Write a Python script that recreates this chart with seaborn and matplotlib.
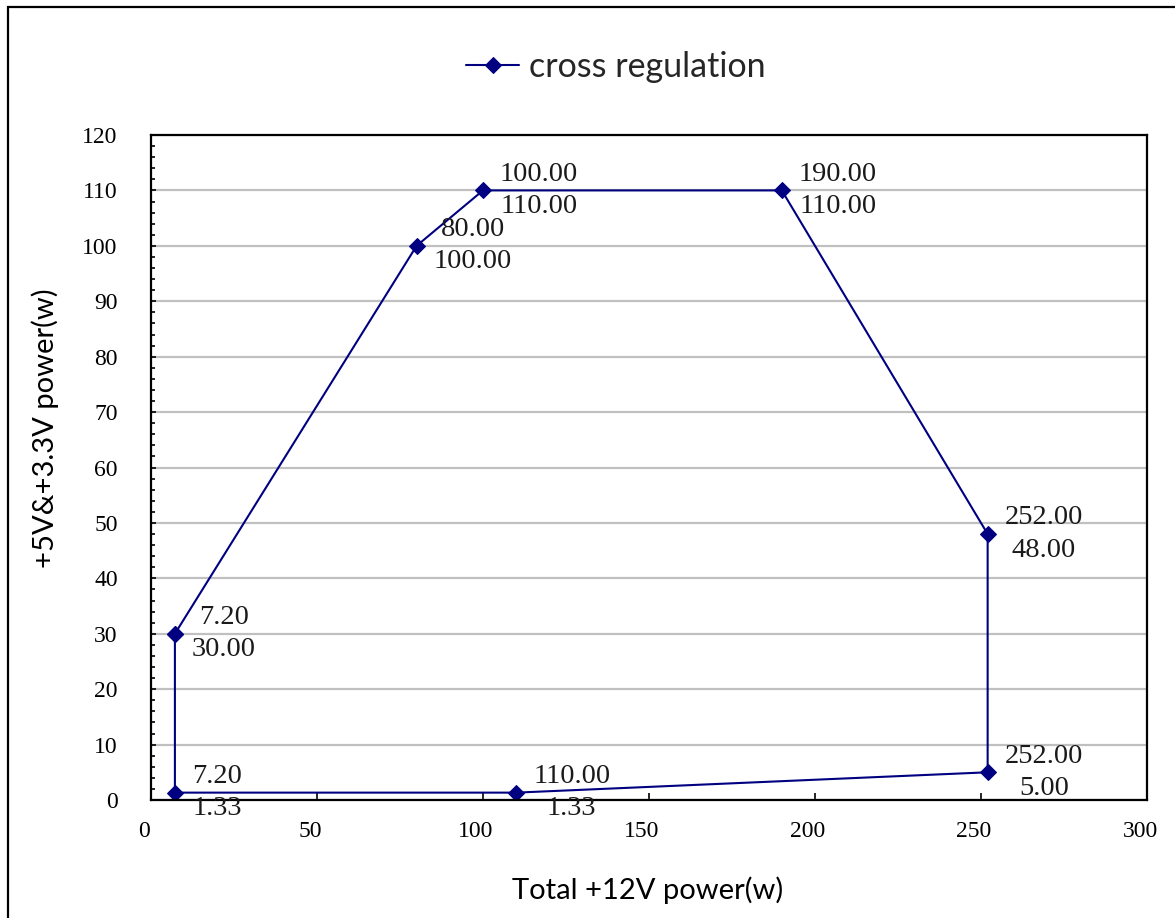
import matplotlib
matplotlib.use("Agg")
import matplotlib.pyplot as plt
import matplotlib.transforms as mtransforms
from matplotlib.patches import Rectangle
from matplotlib.ticker import MultipleLocator
import seaborn as sns
import pandas as pd

# ---- data ----
x_12v = [7.2, 80, 100, 190, 252, 252, 110, 7.2, 7.2]
y_5v33 = [30, 100, 110, 110, 48, 5, 1.33, 1.33, 30]
series_name = "cross regulation"
x_ticks = [0, 50, 100, 150, 200, 250, 300]
y_ticks = [0, 10, 20, 30, 40, 50, 60, 70, 80, 90, 100, 110, 120]
x_label = "Total +12V power(w)"
y_label = "+5V&+3.3V power(w)"

df = pd.DataFrame({"x": x_12v, "y": y_5v33, "s": [series_name] * len(x_12v)})

sns.set_theme(style="white")
plt.rcParams["font.family"] = ["Liberation Serif", "DejaVu Serif"]

W, H = 1175, 918
fig = plt.figure(figsize=(W / 100, H / 100), dpi=100)
ax = fig.add_axes([151 / W, 1 - 800 / H, (1147 - 151) / W, (800 - 135) / H])

navy = "#000080"
sns.lineplot(data=df, x="x", y="y", hue="s", palette=[navy], sort=False,
             estimator=None, marker="D", markersize=8, markeredgecolor=navy,
             linewidth=1.5, ax=ax, legend=True)

ax.set_xlim(0, 300)
ax.set_ylim(0, 120)
ax.set_xticks(x_ticks)
ax.set_yticks(y_ticks)
ax.yaxis.set_minor_locator(MultipleLocator(2))
ax.grid(axis="y", which="major", color="#C0C0C0", linewidth=1.6)
ax.grid(axis="x", visible=False)
ax.set_axisbelow(True)
for sp in ax.spines.values():
    sp.set_visible(True)
    sp.set_color("black")
    sp.set_linewidth(1.6)

ax.tick_params(axis="x", which="major", direction="in", length=5, width=1.2,
               color="black", pad=15, labelsize=17, bottom=True, top=False)
ax.tick_params(axis="y", which="major", direction="in", length=3.5, width=1.2,
               color="black", pad=24, labelsize=17, left=True, right=False)
ax.tick_params(axis="y", which="minor", direction="in", length=3, width=1.2,
               color="black", left=True, right=False)
ax.set_xlabel("")
ax.set_ylabel("")

offset = mtransforms.ScaledTranslation(-7 / 100, 0, fig.dpi_scale_trans)
for lab in ax.get_xticklabels():
    lab.set_transform(lab.get_transform() + offset)
for lab in ax.get_xticklabels() + ax.get_yticklabels():
    lab.set_color("black")

# data labels
seen = set()
for xv, yv in zip(x_12v, y_5v33):
    if (xv, yv) in seen:
        continue
    seen.add((xv, yv))
    ax.annotate(f"{xv:.2f}\n{yv:.2f}", (xv, yv), xytext=(17, 0),
                textcoords="offset pixels", ha="left", va="center",
                multialignment="center", fontsize=20.5, color="#1a1a1a",
                linespacing=1.38, annotation_clip=False)

# legend
handles, labels = ax.get_legend_handles_labels()
ax.get_legend().remove()
fig.legend(handles, labels, loc="center", bbox_to_anchor=(616 / W, 1 - 67 / H),
           frameon=False, prop={"family": "Lato", "size": 24.5},
           handlelength=1.55, handletextpad=0.3)

# axis titles
fig.text(648 / W, 1 - 890 / H, x_label, ha="center", va="center",
         fontsize=21, family="Lato", color="black")
fig.text(45 / W, 1 - 428 / H, y_label, ha="center", va="center",
         rotation=90, fontsize=21, family="Lato", color="black")

# outer chart border
fig.patches.append(Rectangle((8 / W, -0.02), 1.05, 1.02 - 7 / H, transform=fig.transFigure,
                             fill=False, edgecolor="black", linewidth=1.6))

fig.savefig("out.png", dpi=100, facecolor="white")
